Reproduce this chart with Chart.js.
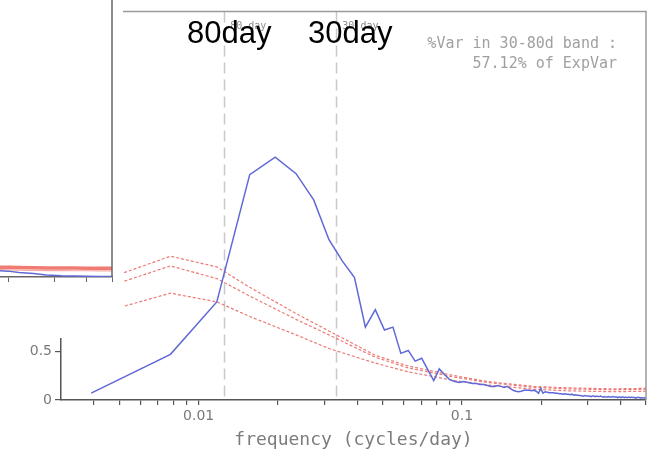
<!DOCTYPE html>
<html><head><meta charset="utf-8">
<script src="https://cdn.jsdelivr.net/npm/chart.js@4.4.0/dist/chart.umd.min.js"></script>
<style>
html,body{margin:0;padding:0;background:#fff;}
#wrap{position:relative;width:654px;height:451px;overflow:hidden;background:#fff;}
#main{position:absolute;left:0;top:0;}
#inset{position:absolute;left:0;top:0;}
</style></head><body>
<div id="wrap"><canvas id="main" width="654" height="451"></canvas><canvas id="inset" width="114" height="290"></canvas></div>
<script>
// ---- data ----
const recordLengthDays = 256;
const harmonics = Array.from({length:128}, (_, i) => i + 1);   // frequency index k, f = k / 256 cycles/day
const blueSpectrum = [
  0.07, 0.47, 1.01, 2.32, 2.50, 2.33, 2.06, 1.65, 1.43, 1.26,
  0.75, 0.93, 0.72, 0.75, 0.48, 0.51, 0.40, 0.43, 0.31, 0.20,
  0.32, 0.26, 0.21, 0.19, 0.18, 0.19, 0.18, 0.17, 0.17, 0.16,
  0.16, 0.15, 0.14, 0.14, 0.15, 0.14, 0.13, 0.14, 0.12, 0.10,
  0.09, 0.085, 0.09, 0.10, 0.10, 0.10, 0.095, 0.10, 0.09, 0.07,
  0.12, 0.07, 0.085, 0.08, 0.075, 0.075, 0.075, 0.07, 0.07, 0.065,
  0.065, 0.06, 0.065, 0.06, 0.06, 0.055, 0.06, 0.05, 0.055, 0.05,
  0.05, 0.045, 0.045, 0.04, 0.045, 0.04, 0.04, 0.04, 0.035, 0.04,
  0.04, 0.035, 0.04, 0.035, 0.035, 0.04, 0.035, 0.03, 0.035, 0.03,
  0.03, 0.035, 0.03, 0.03, 0.03, 0.035, 0.03, 0.03, 0.03, 0.025,
  0.03, 0.03, 0.025, 0.03, 0.03, 0.025, 0.03, 0.025, 0.025, 0.03,
  0.025, 0.025, 0.03, 0.025, 0.025, 0.025, 0.02, 0.025, 0.025, 0.025,
  0.025, 0.02, 0.025, 0.02, 0.02, 0.025, 0.02, 0.02
];
const redHarmonics = [1, 2, 3, 4, 6, 8, 12, 16, 24, 32, 48, 64, 96, 128];
const redUpper  = [1.19, 1.48, 1.37, 1.16, 0.89, 0.71, 0.46, 0.35, 0.25, 0.19, 0.14, 0.125, 0.115, 0.12];
const redMiddle = [1.11, 1.38, 1.25, 1.07, 0.83, 0.67, 0.44, 0.33, 0.235, 0.18, 0.13, 0.115, 0.105, 0.11];
const redLower  = [0.87, 1.10, 1.01, 0.86, 0.67, 0.53, 0.38, 0.29, 0.20, 0.155, 0.11, 0.095, 0.085, 0.09];
const bandEdgesDays = [80, 30];
const xTickValues = [0.004, 0.005, 0.006, 0.007, 0.008, 0.009, 0.01, 0.02, 0.03, 0.04, 0.05, 0.06, 0.07, 0.08, 0.09, 0.1, 0.2, 0.3, 0.4, 0.5];
const xLabeledTicks = [0.01, 0.1];
const annotationLines = ['%Var in 30-80d band :', '57.12% of ExpVar'];
const overlayLabels = ['80day', '30day'];
const axisTitle = 'frequency (cycles/day)';
// inset panel fragment (top-left)
const insetFreq  = [0.186, 0.2, 0.22, 0.25, 0.28, 0.32, 0.36, 0.4, 0.45, 0.5];
const insetBlue  = [0.065, 0.06, 0.045, 0.035, 0.02, 0.012, 0.01, 0.008, 0.006, 0.005];
const insetRedA  = [0.10, 0.099, 0.097, 0.095, 0.093, 0.092, 0.091, 0.09, 0.09, 0.09];
const insetRedB  = [0.075, 0.073, 0.07, 0.068, 0.066, 0.065, 0.064, 0.064, 0.063, 0.063];
const insetTicks = [0.2, 0.3, 0.4, 0.5];

const toPts = (xs, ys) => xs.map((x, i) => ({x: x, y: ys[i]}));
const freqOf = k => k / recordLengthDays;

const decor = {
  id: 'decor',
  beforeDatasetsDraw(chart) {
    const {ctx, chartArea: a, scales: {x}} = chart;
    ctx.save();
    ctx.strokeStyle = '#c9c9c9'; ctx.lineWidth = 1.5; ctx.setLineDash([11, 6]);
    bandEdgesDays.forEach(d => {
      const px = Math.round(x.getPixelForValue(1 / d)) + 0.5;
      ctx.beginPath(); ctx.moveTo(px, a.top); ctx.lineTo(px, a.bottom); ctx.stroke();
    });
    ctx.restore();
  },
  afterDraw(chart) {
    const {ctx, chartArea: a, scales: {x}} = chart;
    ctx.save();
    ctx.strokeStyle = '#9a9a9a'; ctx.lineWidth = 1.5;
    ctx.beginPath(); ctx.moveTo(a.left, a.top); ctx.lineTo(a.right, a.top); ctx.lineTo(a.right, a.bottom); ctx.stroke();
    ctx.fillStyle = '#8c8c8c'; ctx.font = '10px "DejaVu Sans Mono"'; ctx.textAlign = 'left'; ctx.textBaseline = 'alphabetic';
    bandEdgesDays.forEach(d => { ctx.fillText(d + ' day', x.getPixelForValue(1 / d) + 6, a.top + 18); });
    ctx.fillStyle = '#a0a0a0'; ctx.font = '15px "DejaVu Sans Mono"'; ctx.textAlign = 'right';
    ctx.fillText(annotationLines[0], 617, 48);
    ctx.fillText(annotationLines[1], 617, 68);
    // pasted blank patch
    ctx.fillStyle = '#ffffff'; ctx.fillRect(0, 0, 123, 338);
    ctx.fillStyle = '#000'; ctx.font = '31px "Liberation Sans"'; ctx.textAlign = 'left';
    ctx.fillText(overlayLabels[0], 187, 43);
    ctx.fillText(overlayLabels[1], 308, 43);
    ctx.restore();
  }
};

const redStyle = {borderColor: '#ec7a76', borderWidth: 1.2, borderDash: [3, 2], pointRadius: 0, tension: 0, fill: false};

new Chart(document.getElementById('main'), {
  type: 'line',
  data: {datasets: [
    {data: toPts(harmonics.map(freqOf), blueSpectrum), borderColor: '#5f69d6', borderWidth: 1.5, pointRadius: 0, tension: 0, fill: false},
    Object.assign({data: toPts(redHarmonics.map(freqOf), redUpper)}, redStyle),
    Object.assign({data: toPts(redHarmonics.map(freqOf), redMiddle)}, redStyle),
    Object.assign({data: toPts(redHarmonics.map(freqOf), redLower)}, redStyle)
  ]},
  options: {
    responsive: false, animation: false, events: [],
    layout: {padding: {left: 0, right: 8, top: 9, bottom: 0}},
    plugins: {legend: {display: false}, tooltip: {enabled: false}},
    scales: {
      x: {
        type: 'logarithmic', min: 0.003, max: 0.5,
        afterBuildTicks: s => { s.ticks = xTickValues.map(v => ({value: v})); },
        afterFit: s => { s.height = 51; },
        ticks: {autoSkip: false, maxRotation: 0, padding: 3, color: '#7a7a7a',
          font: {family: 'DejaVu Sans', size: 14},
          callback: v => xLabeledTicks.includes(v) ? String(v) : ''},
        grid: {drawOnChartArea: false, tickLength: 5, color: '#555', lineWidth: 1.2},
        border: {display: true, color: '#555', width: 1.5},
        title: {display: true, text: axisTitle, color: '#7c7c7c', padding: {top: 0, bottom: 0},
          font: {family: 'DejaVu Sans Mono', size: 18, lineHeight: 1.2}}
      },
      y: {
        min: 0, max: 4,
        afterFit: s => { s.width = 61; },
        ticks: {stepSize: 0.5, padding: 3, color: '#7a7a7a', font: {family: 'DejaVu Sans', size: 14}},
        grid: {drawOnChartArea: false, tickLength: 6, color: '#555', lineWidth: 1.2},
        border: {display: true, color: '#555', width: 1.5}
      }
    }
  },
  plugins: [decor]
});

const insetFrame = {
  id: 'insetFrame',
  afterDraw(chart) {
    const {ctx, chartArea: a} = chart;
    ctx.save(); ctx.strokeStyle = '#666'; ctx.lineWidth = 1.5;
    ctx.beginPath(); ctx.moveTo(a.right, 0); ctx.lineTo(a.right, a.bottom); ctx.stroke();
    ctx.restore();
  }
};

new Chart(document.getElementById('inset'), {
  type: 'line',
  data: {datasets: [
    {data: toPts(insetFreq, insetBlue), borderColor: '#5f69d6', borderWidth: 1.5, pointRadius: 0, tension: 0},
    {data: toPts(insetFreq, insetRedA), borderColor: '#f07b72', borderWidth: 3.5, pointRadius: 0, tension: 0},
    {data: toPts(insetFreq, insetRedB), borderColor: '#f5a9a4', borderWidth: 1.2, pointRadius: 0, tension: 0}
  ]},
  options: {
    responsive: false, animation: false, events: [],
    layout: {padding: {left: 0, right: 2, top: 0, bottom: 0}},
    plugins: {legend: {display: false}, tooltip: {enabled: false}},
    scales: {
      x: {
        type: 'logarithmic', min: 0.186, max: 0.5,
        afterBuildTicks: s => { s.ticks = insetTicks.map(v => ({value: v})); },
        afterFit: s => { s.height = 13; },
        ticks: {display: false},
        grid: {drawOnChartArea: false, tickLength: 5, color: '#666'},
        border: {display: true, color: '#666', width: 1.5}
      },
      y: {display: false, min: 0, max: 2.83}
    }
  },
  plugins: [insetFrame]
});
</script>
</body></html>
